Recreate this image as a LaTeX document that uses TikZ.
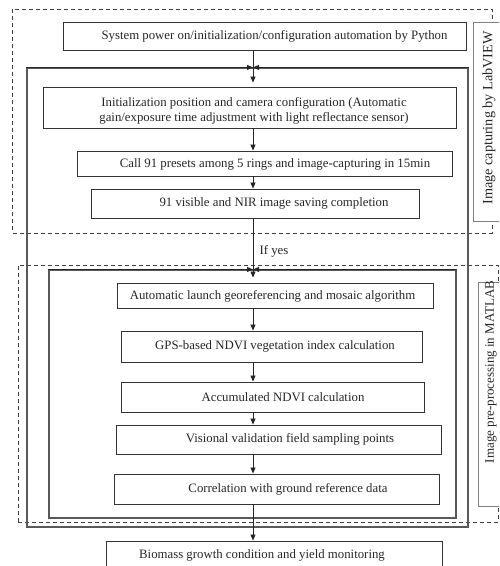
\documentclass[tikz,border=0pt]{standalone}
\usepackage{fontspec}
\setmainfont{Liberation Serif}
\usetikzlibrary{arrows.meta,fit}
\begin{document}
\begin{tikzpicture}[x=1pt,y=-1pt,
  box/.style={draw=black!80, line width=0.9pt, inner sep=0pt},
  frame/.style={draw=black!65, line width=1.1pt, inner sep=0pt},
  dashbox/.style={draw=black!75, line width=0.8pt, dash pattern=on 4pt off 3pt},
  sidebox/.style={draw=black!50, line width=0.8pt, fill=white, inner sep=0pt},
  txt/.style={font=\fontsize{12.8}{15}\selectfont, text=black!85, inner sep=0pt, align=center},
  side/.style={rotate=90, inner sep=0pt, text=black!85},
  arr/.style={-{Triangle[length=6pt,width=5pt]}, line width=0.8pt, draw=black!85},
]
\useasboundingbox (0,0) rectangle (499,566);
\clip (0,0) rectangle (499,566);
\coordinate (spine) at (253,0);

% dashed group frames
\node[dashbox, inner sep=0pt, fit={(12.7,9) (492,233)}] (dtop) {};
\node[dashbox, inner sep=0pt, fit={(18,265) (498,522)}] (dbot) {};

% side label boxes
\node[sidebox, fit={(473,22) (540,221)}] (sideA) {};
\node[sidebox, fit={(478,282) (540,506)}] (sideB) {};
\node[side, font=\fontsize{14.2}{16}\selectfont] (labA) at (489,118) {Image capturing by LabVIEW};
\node[side, font=\fontsize{13}{16}\selectfont] (labB) at (491,372) {Image pre-processing in MATLAB};

% solid frames
\node[frame, fit={(27,68) (468,527)}] (outer) {};
\node[frame, fit={(49,270) (456,518)}] (inner) {};

% process boxes
\node[box, fit={(63,22) (466,50)}] (b1) {};
\node[box, fit={(43,87) (456,128)}] (b2) {};
\node[box, fit={(77,151) (452,176)}] (b3) {};
\node[box, fit={(91,189) (419,218)}] (b4) {};
\node[box, fit={(117,283) (433,308)}] (b5) {};
\node[box, fit={(121,331) (422,362)}] (b6) {};
\node[box, fit={(121,382) (424,412)}] (b7) {};
\node[box, fit={(116,425) (441,454)}] (b8) {};
\node[box, fit={(114,474) (439,504)}] (b9) {};
\node[box, fit={(106,541) (442,576)}] (b10) {};

% texts
\node[txt] (t1) at (274.5,36) {System power on/initialization/configuration automation by Python};
\node[txt] (t2) at (254,110.5) {Initialization position and camera configuration (Automatic\\gain/exposure time adjustment with light reflectance sensor)};
\node[txt] (t3) at (275,164) {Call 91 presets among 5 rings and image-capturing in 15min};
\node[txt] (t4) at (274,203) {91 visible and NIR image saving completion};
\node[txt] (ifyes) at (274,251) {If yes};
\node[txt] (t5) at (272.5,296) {Automatic launch georeferencing and mosaic algorithm};
\node[txt] (t6) at (275,346) {GPS-based NDVI vegetation index calculation};
\node[txt] (t7) at (283,397) {Accumulated NDVI calculation};
\node[txt] (t8) at (290,439) {Visional validation field sampling points};
\node[txt] (t9) at (288,489) {Correlation with ground reference data};
\node[txt] (t10) at (262,555) {Biomass growth condition and yield monitoring};

% connectors
\draw[arr, shorten >=4pt] (b1.south -| spine) -- (b2.north -| spine);
\draw[arr] (outer.north west) -- (outer.north -| spine);
\draw[arr] (outer.north east) -- (outer.north -| spine);
\draw[arr] (b2.south -| spine) -- (b3.north -| spine);
\draw[arr] (b3.south -| spine) -- (b4.north -| spine);
\draw[arr, shorten >=5pt] (b4.south -| spine) -- (b5.north -| spine);
\draw[arr] (inner.north west) -- (inner.north -| spine);
\draw[arr] (inner.north east) -- (inner.north -| spine);
\draw[arr] (b5.south -| spine) -- (b6.north -| spine);
\draw[arr] (b6.south -| spine) -- (b7.north -| spine);
\draw[arr] (b7.south -| spine) -- (b8.north -| spine);
\draw[arr] (b8.south -| spine) -- (b9.north -| spine);
\draw[arr] (b9.south -| spine) -- (b10.north -| spine);
\end{tikzpicture}
\end{document}
